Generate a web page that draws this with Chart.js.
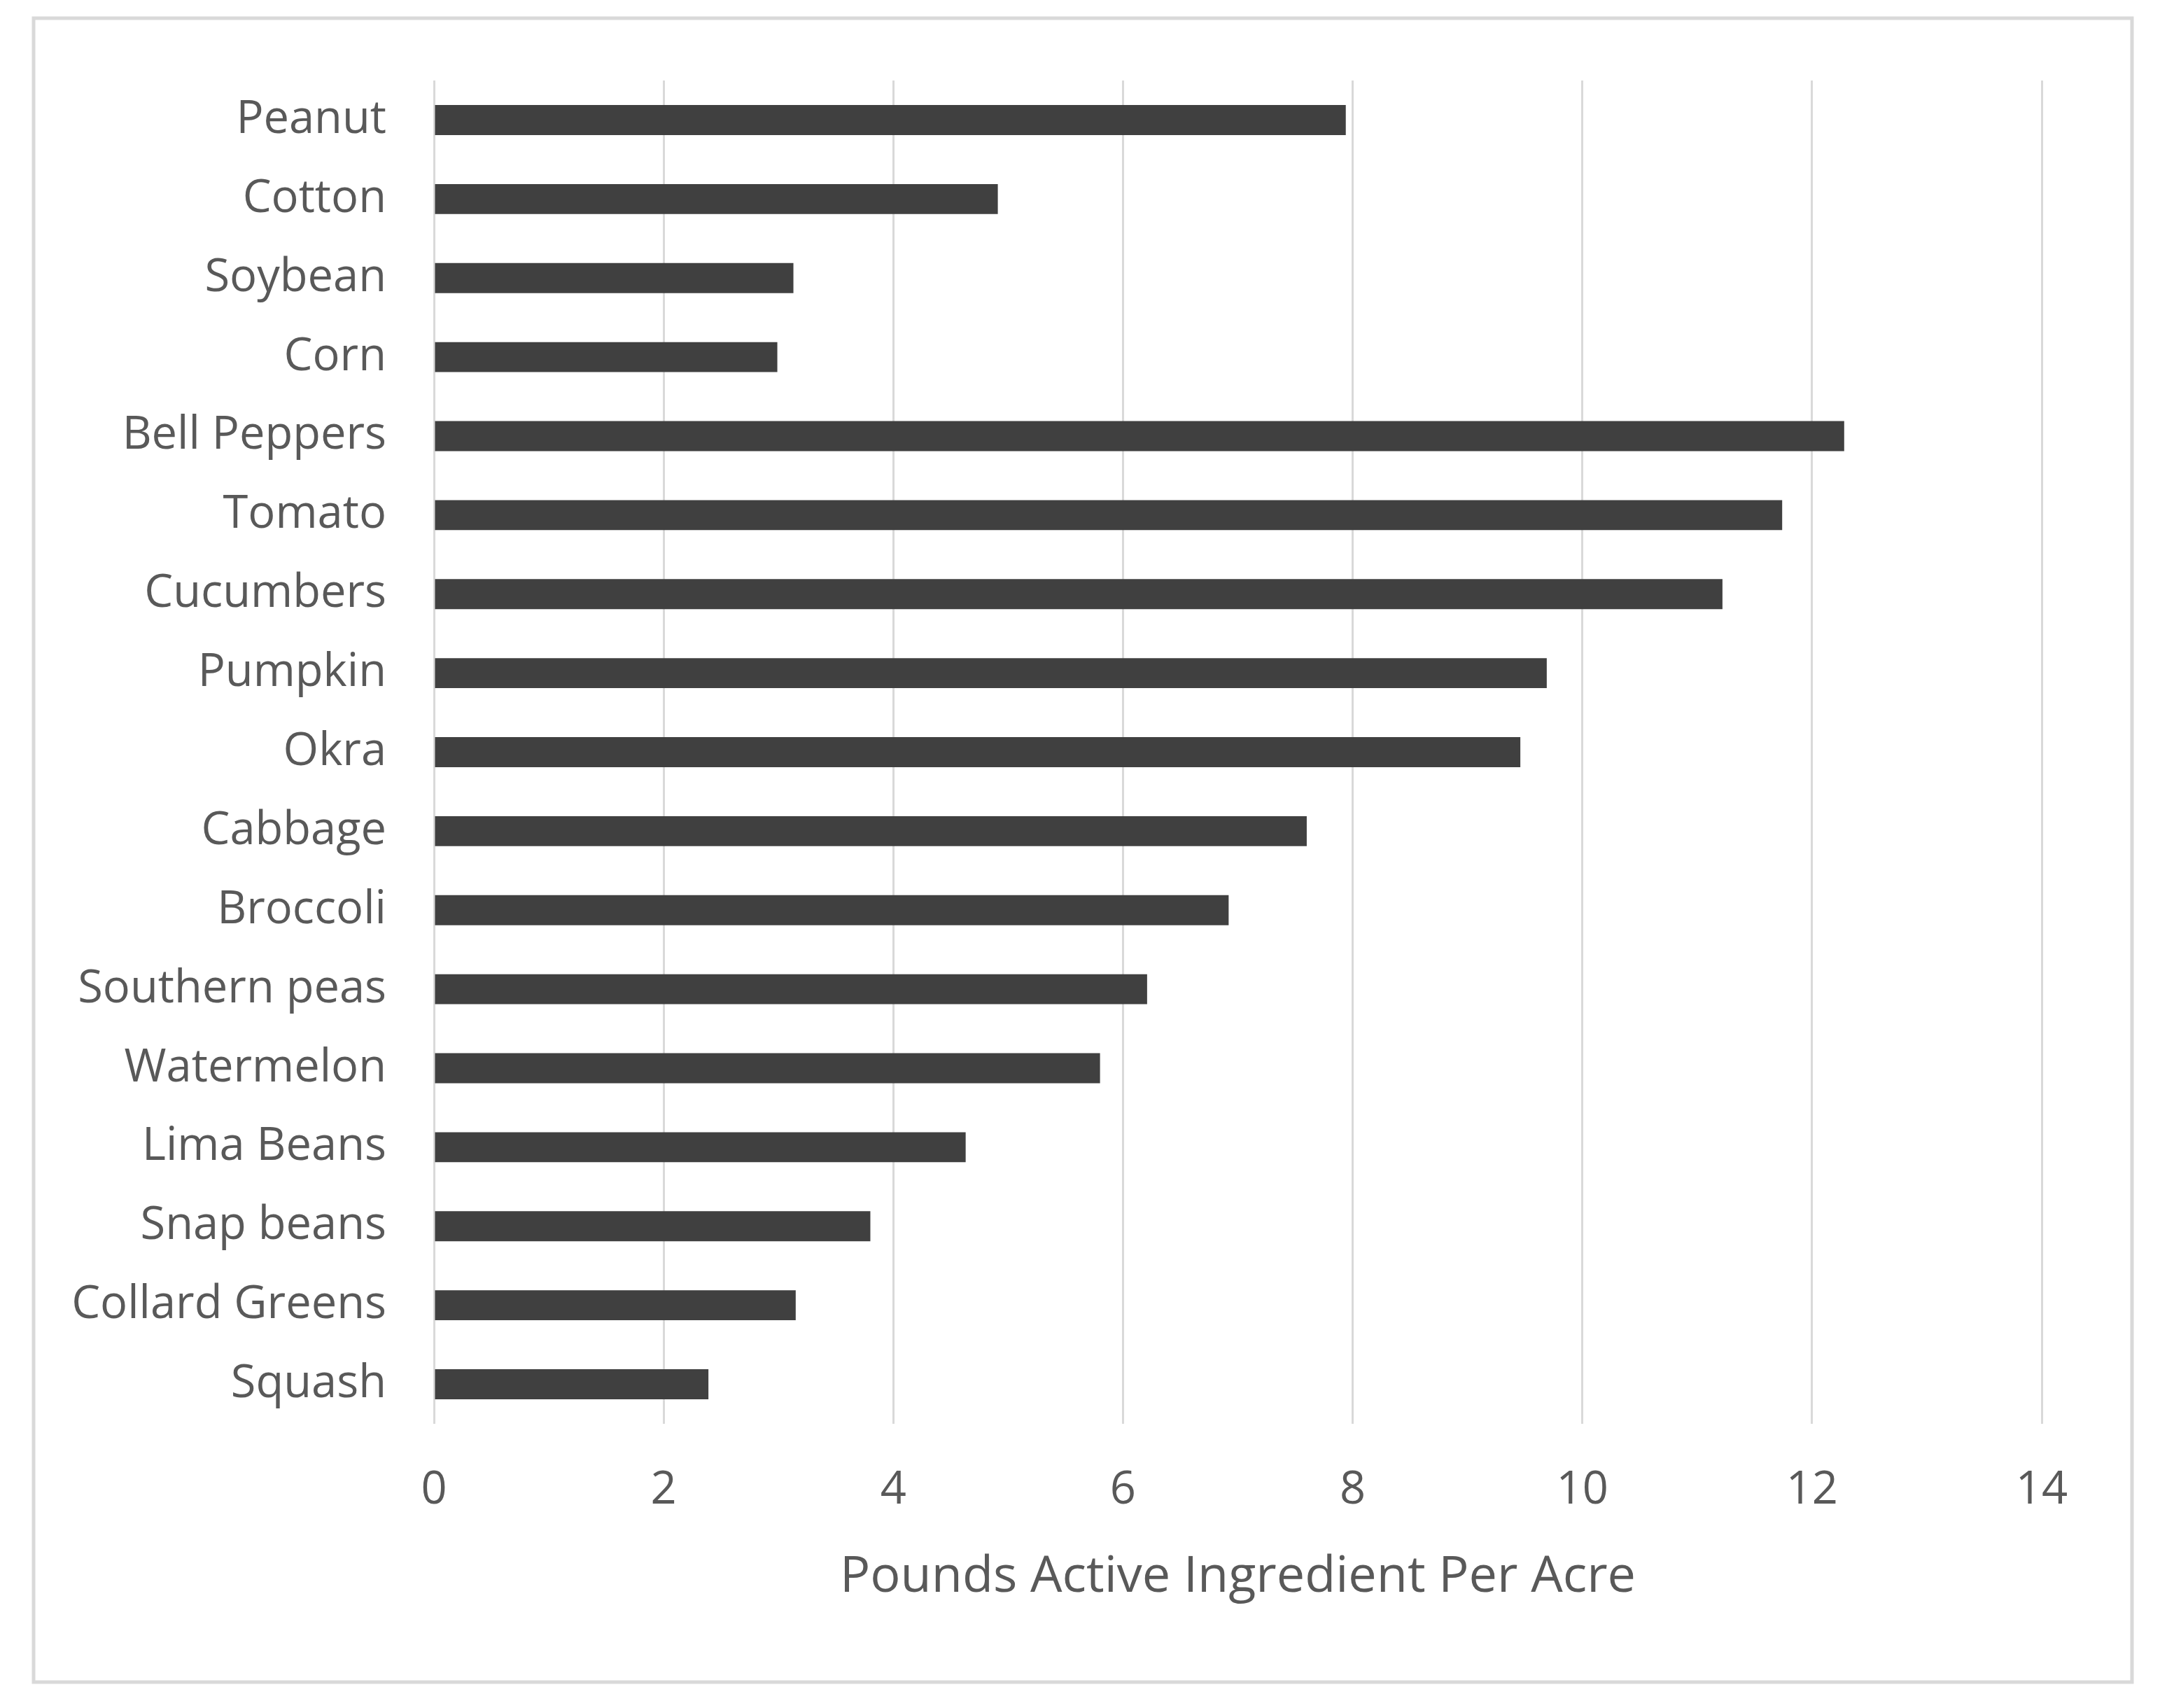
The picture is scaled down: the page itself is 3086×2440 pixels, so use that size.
<!DOCTYPE html>
<html>
<head>
<meta charset="utf-8">
<script src="https://cdn.jsdelivr.net/npm/chart.js@4/dist/chart.umd.min.js"></script>
<style>
    html, body { margin: 0; padding: 0; background: #fff; }
    #wrap { width: 3086px; height: 2440px; }
</style>
</head>
<body>
<div id="wrap"><canvas id="cropChart"></canvas></div>
<script>
const crops = [
    'Peanut', 'Cotton', 'Soybean', 'Corn', 'Bell Peppers', 'Tomato', 'Cucumbers',
    'Pumpkin', 'Okra', 'Cabbage', 'Broccoli', 'Southern peas', 'Watermelon',
    'Lima Beans', 'Snap beans', 'Collard Greens', 'Squash'
];
const poundsPerAcre = [
    7.94, 4.91, 3.13, 2.99, 12.28, 11.74, 11.22,
    9.69, 9.46, 7.60, 6.92, 6.21, 5.80,
    4.63, 3.80, 3.15, 2.39
];
const xTicks = [0, 2, 4, 6, 8, 10, 12, 14];
const axisTitle = 'Pounds Active Ingredient Per Acre';

const textColor = '#595959';
const fontFamily = "'Open Sans', 'Noto Sans', sans-serif";

const framePlugin = {
    id: 'frame',
    beforeDraw(chart) {
        const ctx = chart.ctx;
        ctx.save();
        ctx.fillStyle = '#ffffff';
        ctx.fillRect(0, 0, chart.width, chart.height);
        ctx.strokeStyle = '#d9d9d9';
        ctx.lineWidth = 5;
        ctx.strokeRect(48, 26, 2998, 2377);
        ctx.restore();
    }
};

new Chart(document.getElementById('cropChart'), {
    type: 'bar',
    data: {
        labels: crops,
        datasets: [{
            data: poundsPerAcre,
            backgroundColor: '#404040',
            borderWidth: 0,
            barPercentage: 0.38,
            categoryPercentage: 1
        }]
    },
    options: {
        indexAxis: 'y',
        responsive: true,
        maintainAspectRatio: false,
        animation: false,
        layout: { padding: { top: 115, right: 169, bottom: 0, left: 0 } },
        plugins: { legend: { display: false }, tooltip: { enabled: false } },
        scales: {
            x: {
                min: 0,
                max: 14,
                afterBuildTicks: s => { s.ticks = xTicks.map(v => ({ value: v })); },
                afterFit: s => { s.height = 2440 - 2034; },
                grid: { color: '#d9d9d9', lineWidth: 3, drawTicks: false },
                border: { display: false },
                ticks: { color: textColor, padding: 56, font: { family: fontFamily, size: 65 } },
                title: {
                    display: true,
                    text: axisTitle,
                    color: textColor,
                    padding: { top: 0, bottom: 143 },
                    font: { family: fontFamily, size: 72 }
                }
            },
            y: {
                afterFit: s => { s.width = 620; },
                grid: { display: false, drawTicks: false },
                border: { display: false },
                ticks: { color: textColor, padding: 68, font: { family: fontFamily, size: 65 } }
            }
        }
    },
    plugins: [framePlugin]
});
</script>
</body>
</html>
